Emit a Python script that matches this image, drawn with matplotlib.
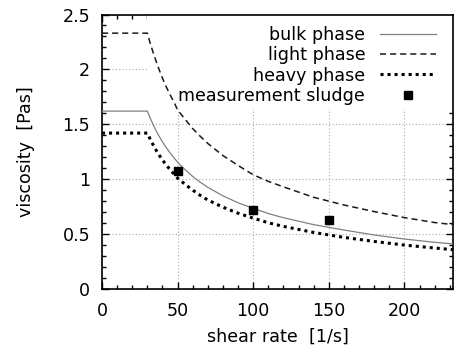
import matplotlib
matplotlib.use("Agg")
import matplotlib.pyplot as plt
from matplotlib.patches import Rectangle
from matplotlib.ticker import MultipleLocator

# viscosity curves (shear rate in 1/s, viscosity in Pas)
shear = [0, 30, 32, 34, 36, 38, 40, 42, 45, 48, 50, 55, 60, 65, 70, 80, 90, 100,
         110, 120, 140, 160, 180, 200, 220, 233]
bulk = [1.62, 1.62, 1.552, 1.492, 1.436, 1.386, 1.34, 1.297, 1.24, 1.188, 1.155,
        1.086, 1.025, 0.972, 0.926, 0.848, 0.785, 0.735, 0.687, 0.649, 0.586,
        0.537, 0.492, 0.455, 0.425, 0.41]
light = [2.33, 2.33, 2.232, 2.146, 2.065, 1.99, 1.92, 1.855, 1.77, 1.69, 1.63,
         1.545, 1.46, 1.39, 1.325, 1.215, 1.125, 1.04, 0.98, 0.93, 0.835,
         0.765, 0.705, 0.65, 0.605, 0.585]
heavy = [1.42, 1.42, 1.36, 1.308, 1.259, 1.215, 1.175, 1.137, 1.087, 1.041, 1.01,
         0.952, 0.90, 0.852, 0.81, 0.745, 0.69, 0.645, 0.603, 0.57, 0.515,
         0.47, 0.433, 0.40, 0.373, 0.357]

# measured sludge
meas_shear = [50, 100, 150]
meas_visc = [1.075, 0.718, 0.63]

plt.rcParams['font.family'] = ['DejaVu Sans']
fs = 12.6

fig = plt.figure(figsize=(4.54, 3.53), dpi=100)
ax = fig.add_axes([102 / 454, 1 - 289 / 353, (453.5 - 102) / 454, (289 - 14.5) / 353])

ax.plot(shear, bulk, color='#808080', lw=0.9, label='bulk phase', zorder=3)
ax.plot(shear, light, color='#1a1a1a', lw=1.1, dashes=(4, 2.6), label='light phase', zorder=3)
ax.plot(shear, heavy, color='black', lw=2.2, linestyle=(0, (1, 1.3)), label='heavy phase', zorder=3)
ax.plot(meas_shear, meas_visc, 's', color='black', ms=6, label='measurement sludge', zorder=4)

ax.set_xlim(0, 232.4)
ax.set_ylim(0, 2.5)
ax.xaxis.set_major_locator(MultipleLocator(50))
ax.xaxis.set_minor_locator(MultipleLocator(10))
ax.yaxis.set_major_locator(MultipleLocator(0.5))
ax.yaxis.set_minor_locator(MultipleLocator(0.1))
ax.set_yticks([0, 0.5, 1, 1.5, 2, 2.5])
ax.set_yticklabels(['0', '0.5', '1', '1.5', '2', '2.5'])

ax.tick_params(which='both', direction='in', top=True, right=True, width=1, labelsize=fs)
ax.tick_params(which='major', length=5)
ax.tick_params(which='minor', length=3)
ax.tick_params(axis='x', pad=9)
ax.tick_params(axis='y', pad=8.5)
for sp in ax.spines.values():
    sp.set_linewidth(1.2)

# gnuplot-like dotted grid, hidden behind the key
ax.grid(True, which='major', color='#aaaaaa', linestyle=(0, (1, 2)), lw=0.8, zorder=0.5)
ax.set_axisbelow(True)
ax.add_patch(Rectangle((29.8, 1.64), 210, 1.0, facecolor='white', edgecolor='none', zorder=1))

ax.set_xlabel('shear rate  [1/s]', fontsize=fs, labelpad=6)
ax.set_ylabel('viscosity  [Pas]', fontsize=fs, labelpad=20)

ax.legend(loc='upper right', bbox_to_anchor=(436 / 454, 1 - 26 / 353), bbox_transform=fig.transFigure,
          frameon=False, markerfirst=False, fontsize=fs, handlelength=3.2, handletextpad=0.85,
          labelspacing=0.13, borderpad=0, borderaxespad=0)

plt.savefig("out.png", dpi=100)
